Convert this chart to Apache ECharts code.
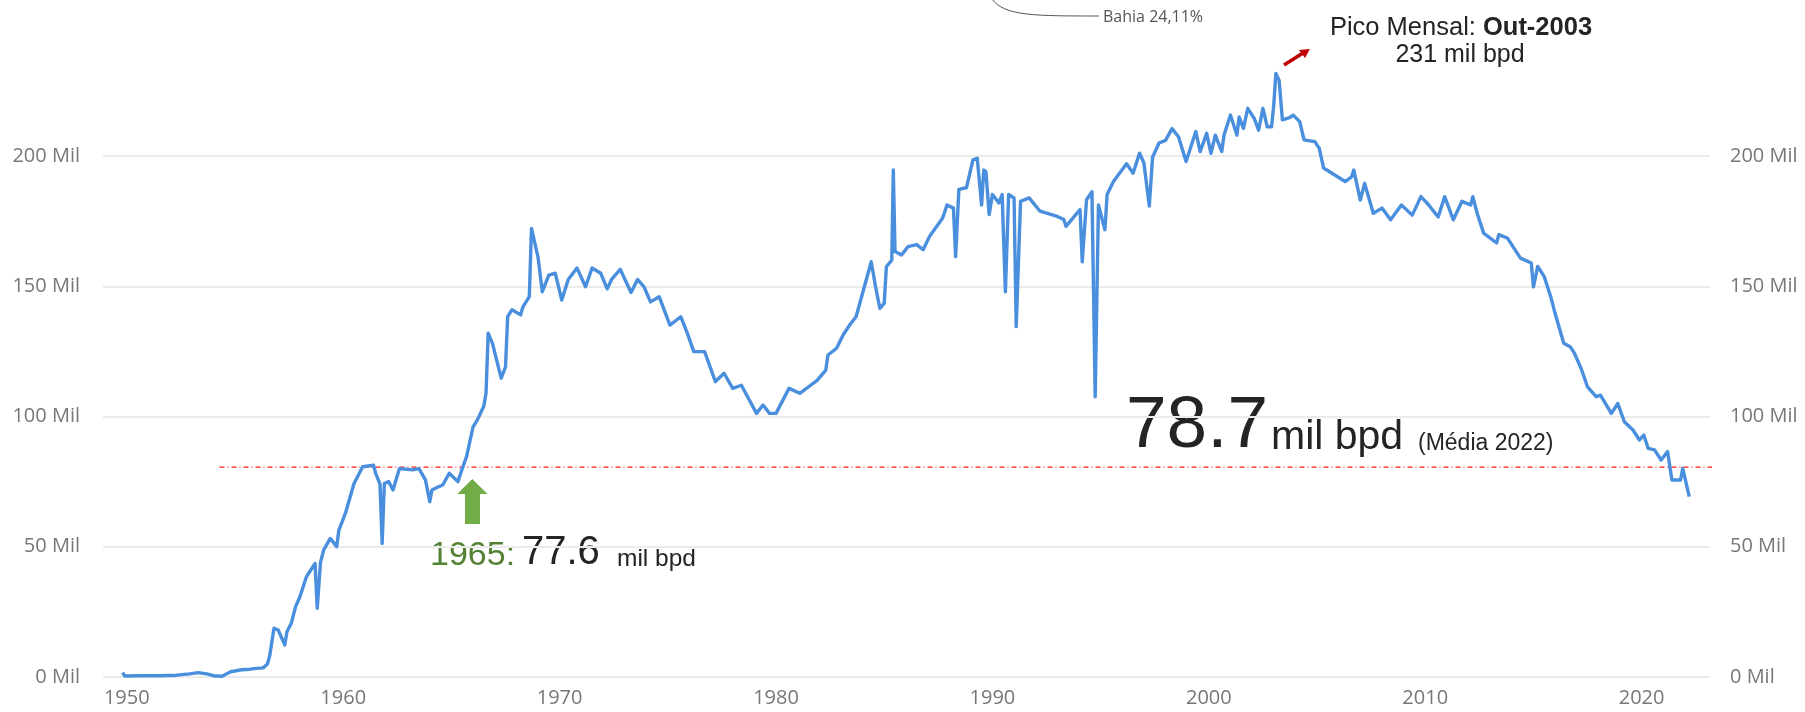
<!DOCTYPE html>
<html>
<head>
<meta charset="utf-8">
<script src="https://cdn.jsdelivr.net/npm/echarts@6/dist/echarts.min.js"></script>
<style>
html,body{margin:0;padding:0;background:#fff;}
#chart{width:1805px;height:712px;}
</style>
</head>
<body>
<div id="chart"></div>
<script>
// Decimal year of each reading
const years = [
1949.81,1949.9,1950.5,1951.5,1952.3,1952.9,1953.3,1953.7,1954.0,1954.4,1954.8,1955.3,1955.7,1956.0,1956.3,1956.5,1956.6,1956.8,1957.0,1957.3,
1957.4,1957.6,1957.8,1958.0,1958.3,1958.7,1958.8,1958.95,1959.1,1959.4,1959.7,1959.8,1960.1,1960.5,1960.9,1961.4,1961.5,1961.7,1961.8,1961.9,
1962.1,1962.3,1962.6,1963.2,1963.5,1963.8,1964.0,1964.1,1964.4,1964.6,1964.9,1965.3,1965.5,1965.7,1966.0,1966.2,1966.5,1966.6,1966.7,1966.9,
1967.3,1967.5,1967.6,1967.8,1968.2,1968.3,1968.6,1968.7,1969.0,1969.2,1969.5,1969.8,1970.1,1970.4,1970.8,1971.2,1971.5,1971.9,1972.2,1972.4,
1972.8,1973.3,1973.6,1973.9,1974.2,1974.6,1975.1,1975.6,1975.9,1976.2,1976.7,1977.2,1977.6,1978.0,1978.4,1979.1,1979.4,1979.7,1980.0,1980.6,
1981.1,1981.6,1981.9,1982.3,1982.4,1982.8,1983.1,1983.4,1983.7,1984.0,1984.4,1984.6,1984.8,1985.0,1985.1,1985.35,1985.42,1985.5,1985.8,1986.1,
1986.5,1986.8,1987.1,1987.7,1987.9,1988.2,1988.3,1988.45,1988.8,1989.1,1989.3,1989.5,1989.6,1989.7,1989.85,1990.0,1990.3,1990.45,1990.6,1990.75,
1991.0,1991.1,1991.3,1991.7,1992.2,1993.0,1993.3,1993.4,1993.9,1994.05,1994.15,1994.35,1994.6,1994.75,1994.9,1995.2,1995.3,1995.6,1996.2,1996.5,
1996.8,1997.0,1997.25,1997.4,1997.7,1998.0,1998.3,1998.6,1998.95,1999.4,1999.6,1999.9,2000.1,2000.3,2000.6,2000.7,2001.0,2001.3,2001.4,2001.6,
2001.8,2002.1,2002.3,2002.5,2002.7,2002.9,2003.0,2003.1,2003.25,2003.4,2003.7,2003.9,2004.2,2004.4,2004.9,2005.1,2005.3,2005.8,2006.3,2006.6,
2006.7,2007.0,2007.2,2007.6,2008.0,2008.4,2008.9,2009.4,2009.8,2010.1,2010.6,2010.9,2011.3,2011.7,2012.1,2012.2,2012.4,2012.7,2013.3,2013.4,
2013.8,2014.4,2014.9,2015.0,2015.2,2015.5,2015.8,2016.0,2016.4,2016.7,2016.9,2017.2,2017.5,2017.9,2018.1,2018.6,2018.9,2019.2,2019.6,2019.9,
2020.1,2020.3,2020.6,2020.9,2021.2,2021.4,2021.8,2021.9,2022.2
];
// Production, thousand barrels per day (Mil bpd)
const production = [
1.7,0.4,0.5,0.5,0.7,1.2,1.7,1.2,0.5,0.3,2,2.8,3.0,3.3,3.5,5,8,18.7,18,12.3,
17.4,20.6,27,30.8,38.5,43.6,26.4,44,48.8,53.2,50,56.4,62.8,74.3,80.7,81.3,78.2,74,51.3,74.3,
75,71.8,80,79.5,80,75.7,67.3,71.8,73,73.7,78.2,75,80,84.6,96,98.7,104,109,132,128,
114.7,119,138.3,141,139,142,146,172.2,161.3,147.9,154.3,155,144.7,152.6,157,149.8,157,155,149,152.6,
156.5,147.6,152.6,149.8,144,146,135.1,138.3,132,124.9,124.9,113.4,116.6,110.8,112,101.2,104.4,101.2,101.2,110.8,
108.9,112,113.9,117.8,123.6,126.2,131.3,135.1,138.3,147.3,159.4,149.8,141.5,143.4,157.5,160,194.6,163.3,162,165.2,
166,164,169.2,176.2,181.2,180,161.4,187.2,187.8,198.5,199.1,181.2,194.6,194,177.5,185.2,182,185.2,147.9,185.2,
183.9,134.5,182.6,183.9,178.8,176.8,175.6,173,178,179.4,159.4,183.2,186.3,107.6,181.2,171.7,185.2,190.3,197,193.4,
201.1,197.3,180.8,199.5,205,206,210.5,207.4,197.9,209.4,201.7,208.7,201,208,201.7,208,215.7,208,215,210.6,
218.3,214.4,209.9,218.3,211.2,211.2,219.5,231.7,229,213.9,214.6,215.7,213.2,206.2,205.5,203,195.4,192.8,190.2,192,
194.6,183.1,189.5,178,180,175.5,181.2,177.3,184.4,181.8,176.6,184.4,175.5,182.6,181.2,184.4,178,170.4,166.6,169.8,
168.5,160.8,158.9,149.8,157.6,153.7,146,139.6,128.1,126.8,124.2,118.5,111.4,107.6,108.2,101.2,105,98,94.8,91,
92.9,87.8,87.2,83.3,86.5,75.6,75.6,80.1,69.2
];
// Reference (dash-dot) line
const refLineYears = [1954.28, 2025.8];
const refLineValue = 80.6;
const yTicks = [0, 50, 100, 150, 200];

const lineData = years.map((y, i) => [y, production[i]]);
const refData = refLineYears.map(y => [y, refLineValue]);

const chart = echarts.init(document.getElementById('chart'), null, {renderer: 'canvas'});
const axisFont = {color: '#777', fontSize: 20, fontFamily: 'Open Sans'};
const option = {
  animation: false,
  grid: {left: 103, right: 95, top: 156, bottom: 35, containLabel: false},
  xAxis: {
    type: 'value', min: 1948.9, max: 2023.16, minInterval: 10, maxInterval: 10, splitNumber: 7,
    axisLine: {show: false}, axisTick: {show: false}, splitLine: {show: false},
    axisLabel: Object.assign({margin: 11, showMinLabel: false, showMaxLabel: false,
      formatter: v => String(Math.round(v))}, axisFont)
  },
  yAxis: [
    {type: 'value', min: yTicks[0], max: yTicks[yTicks.length-1], interval: 50, position: 'left',
     axisLine: {show: false}, axisTick: {show: false},
     splitLine: {show: true, lineStyle: {color: '#EBEBEB', width: 2}},
     axisLabel: Object.assign({margin: 23, formatter: '{value} Mil'}, axisFont)},
    {type: 'value', min: yTicks[0], max: yTicks[yTicks.length-1], interval: 50, position: 'right',
     axisLine: {show: false}, axisTick: {show: false}, splitLine: {show: false},
     axisLabel: Object.assign({margin: 20, formatter: '{value} Mil'}, axisFont)}
  ],
  series: [
    {type: 'line', data: refData, yAxisIndex: 0, clip: false, symbol: 'none', silent: true,
     lineStyle: {color: '#FF1A1A', width: 1.2, type: [5, 3, 1, 3]}, z: 1},
    {type: 'line', data: lineData, yAxisIndex: 0, clip: false, symbol: 'none',
     lineStyle: {color: '#4A8FDD', width: 3.4, join: 'round'}, z: 2}
  ],
  graphic: [
    {type: 'bezierCurve', shape: {x1: 992, y1: -1, cpx1: 1004, cpy1: 16, cpx2: 1035, cpy2: 16, x2: 1099, y2: 16},
     style: {stroke: '#555', lineWidth: 1, fill: null}},
    {type: 'text', x: 1103, y: 17, style: {text: 'Bahia 24,11%', fontSize: 16, fontFamily: 'Open Sans', fill: '#555', verticalAlign: 'middle'}},
    {type: 'text', x: 1461, y: 28, style: {
      text: '{a|Pico Mensal: }{b|Out-2003}', align: 'center', verticalAlign: 'middle',
      rich: {a: {fontSize: 25.5, fontFamily: 'Liberation Sans', fill: '#252423'},
             b: {fontSize: 25.5, fontFamily: 'Liberation Sans', fontWeight: 'bold', fill: '#252423'}}}},
    {type: 'text', x: 1460, y: 55, style: {text: '231 mil bpd', align: 'center', verticalAlign: 'middle', fontSize: 25, fontFamily: 'Liberation Sans', fill: '#252423'}},
    {type: 'line', shape: {x1: 1284, y1: 65, x2: 1303, y2: 53}, style: {stroke: '#C00000', lineWidth: 3.5}},
    {type: 'polygon', shape: {points: [[1310, 49], [1299, 50], [1305, 58]]}, style: {fill: '#C00000'}},
    {type: 'text', x: 1126, y: 427, style: {text: '78.7', fontSize: 73, fontFamily: 'Liberation Sans', fill: '#252423', verticalAlign: 'middle'}},
    {type: 'text', x: 1271, y: 438, style: {text: 'mil bpd', fontSize: 41, fontFamily: 'Liberation Sans', fill: '#252423', verticalAlign: 'middle'}},
    {type: 'text', x: 1418, y: 444, style: {text: '(Média 2022)', fontSize: 23, fontFamily: 'Liberation Sans', fill: '#252423', verticalAlign: 'middle'}},
    {type: 'polygon', shape: {points: [[472.3, 479], [487.5, 494], [480, 494], [480, 524], [465, 524], [465, 494], [457.3, 494]]}, style: {fill: '#70AD47'}},
    {type: 'text', x: 430, y: 556, style: {text: '1965:', fontSize: 34, fontFamily: 'Liberation Sans', fill: '#548235', verticalAlign: 'middle'}},
    {type: 'text', x: 522, y: 553, style: {text: '77.6', fontSize: 40, fontFamily: 'Liberation Sans', fill: '#252423', verticalAlign: 'middle'}},
    {type: 'text', x: 617, y: 559, style: {text: 'mil bpd', fontSize: 24.5, fontFamily: 'Liberation Sans', fill: '#252423', verticalAlign: 'middle'}}
  ]
};
chart.setOption(option);
</script>
</body>
</html>
